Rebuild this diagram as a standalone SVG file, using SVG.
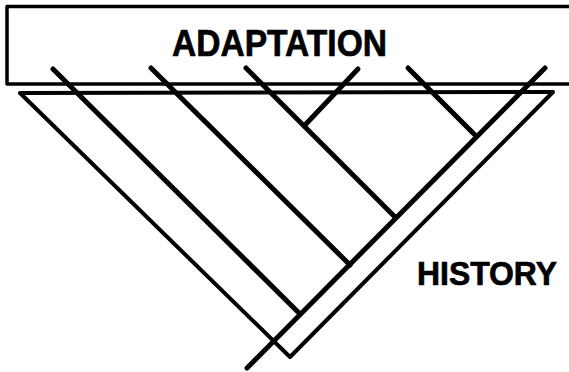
<svg xmlns="http://www.w3.org/2000/svg" width="569" height="372" viewBox="0 0 569 372">
  <style>
    .frame { fill: none; stroke: #000; stroke-width: 3.5; stroke-linejoin: round; }
    .tri { fill: none; stroke: #000; stroke-width: 4; stroke-linejoin: round; }
    .branch { fill: none; stroke: #000; stroke-width: 5; stroke-linecap: round; }
    .label { font-family: "Liberation Sans", Arial, Helvetica, sans-serif; font-weight: bold; fill: #000; stroke: #000; stroke-width: 0.7; stroke-linejoin: round; }
  </style>
  <rect width="569" height="372" fill="#fff"/>

  <!-- upper band: the adaptation level, open to the right -->
  <g id="adaptation">
    <path class="frame" d="M575 6.5 H7 V84 H575"/>
    <text class="label" x="172" y="56" font-size="37" textLength="215" lengthAdjust="spacingAndGlyphs">ADAPTATION</text>
  </g>

  <!-- lower wedge: the historical framework -->
  <g id="history">
    <path class="tri" d="M20 93 L553 92 L290 357 Z"/>
    <text class="label" x="417" y="285" font-size="33.5" textLength="140" lengthAdjust="spacingAndGlyphs">HISTORY</text>
  </g>

  <!-- lineage tree -->
  <g id="connectors">
    <line class="branch" x1="545" y1="68" x2="247" y2="368"/>
    <line class="branch" x1="53" y1="69" x2="300" y2="314"/>
    <line class="branch" x1="151" y1="68" x2="350" y2="265"/>
    <line class="branch" x1="246" y1="68" x2="395" y2="217"/>
    <line class="branch" x1="358" y1="69" x2="305" y2="125"/>
    <line class="branch" x1="408" y1="68" x2="476" y2="136"/>
  </g>
</svg>
